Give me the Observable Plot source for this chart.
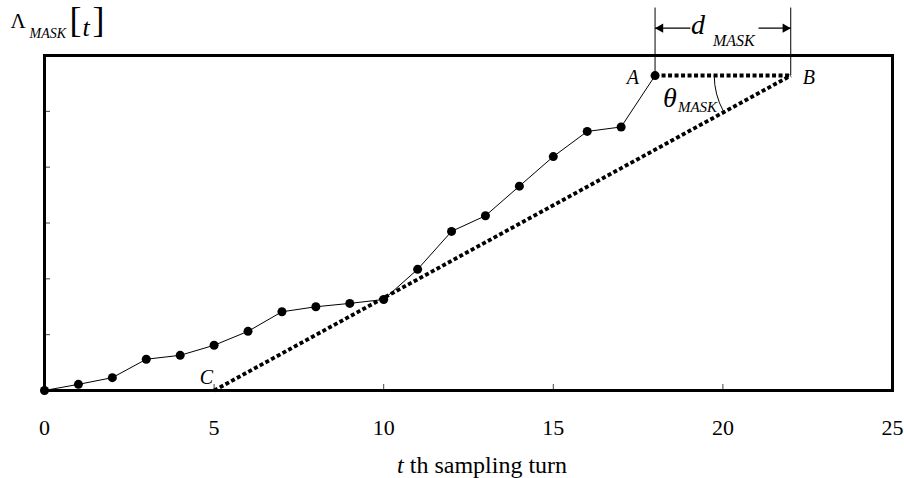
<!DOCTYPE html>
<html><head><meta charset="utf-8">
<script src="https://cdn.jsdelivr.net/npm/d3@7"></script>
<script src="https://cdn.jsdelivr.net/npm/@observablehq/plot@0.6"></script>
<style>body{margin:0;background:#fff}</style>
</head><body><div id="chart"></div>
<script>
// ---- data ----
const turns = [0,1,2,3,4,5,6,7,8,9,10,11,12,13,14,15,16,17,18];
const lambdaMask = [0,0.11,0.23,0.56,0.63,0.81,1.06,1.41,1.50,1.56,1.63,2.17,2.85,3.13,3.66,4.19,4.64,4.72,5.64];
const xTicks = [0,5,10,15,20,25];
const xInnerTicks = [5,10,15,20];
const yInnerTicks = [1,2,3,4,5];
// construction points A, B, C
const maskLabels = ["A","B","C"];
const maskX = [18,22,5];
const maskY = [5.64,5.64,0];
// dimension annotation (data units)
const dimensionTop = 6.85;
const arrowY = 6.49;
const arrowInner = [19.04, 21.05];
const xLabelPos = 12.9;

const data = turns.map((t,i)=>({t, v: lambdaMask[i]}));
const pts = maskLabels.map((k,i)=>({k, x: maskX[i], y: maskY[i]}));
const A = pts[0], B = pts[1], C = pts[2];

const serif = "Liberation Serif, Times New Roman, serif";
const dotted = {x:"x", y:"y", stroke:"black", strokeWidth:4, strokeDasharray:"4,2.5", strokeLinecap:"butt"};

const chart = Plot.plot({
  width: 904, height: 478,
  marginLeft: 44, marginRight: 12, marginTop: 55, marginBottom: 88,
  style: {fontFamily: serif, fontSize: "22px", color: "black", background: "white", overflow: "visible"},
  x: {domain: [0,25]},
  y: {domain: [0,6]},
  marks: [
    Plot.axisX({ticks: xInnerTicks, tickSize: -6, tickFormat: () => "", label: null, stroke: "#444"}),
    Plot.axisX({ticks: xTicks, tickSize: 0, tickPadding: 29, fontSize: 22, label: null, tickFormat: d => String(d)}),
    Plot.axisY({ticks: yInnerTicks, tickSize: -6, tickFormat: () => "", label: null, stroke: "#444"}),
    Plot.frame({stroke: "black", strokeWidth: 3}),
    Plot.line(data, {x: "t", y: "v", stroke: "black", strokeWidth: 1}),
    Plot.dot(data, {x: "t", y: "v", r: 4.5, fill: "black"}),
    Plot.line([A,B], dotted),
    Plot.line([C,B], {...dotted, strokeWidth: 3.8}),
    // dimension lines
    Plot.ruleX([A,B], {x: "x", y1: "y", y2: () => dimensionTop, stroke: "black", strokeWidth: 1}),
    Plot.link([{x1: A.x, x2: arrowInner[0]}, {x1: arrowInner[1], x2: B.x}],
      {x1: "x1", x2: "x2", y1: () => arrowY, y2: () => arrowY, stroke: "black", strokeWidth: 1.2}),
    Plot.dot([A], {x: "x", y: () => arrowY, symbol: "triangle", rotate: -90, r: 3.5, fill: "black", dx: 5.4}),
    Plot.dot([B], {x: "x", y: () => arrowY, symbol: "triangle", rotate: 90, r: 3.5, fill: "black", dx: -5.4}),
    // point labels
    Plot.text([A], {x: "x", y: "y", text: "k", fontStyle: "italic", fontSize: 20, textAnchor: "end", lineAnchor: "middle", dx: -16, dy: 2}),
    Plot.text([B], {x: "x", y: "y", text: "k", fontStyle: "italic", fontSize: 20, textAnchor: "start", lineAnchor: "middle", dx: 12, dy: 2}),
    Plot.text([C], {x: "x", y: "y", text: "k", fontStyle: "italic", fontSize: 20, textAnchor: "end", lineAnchor: "bottom", dx: -1, dy: -7}),
    // rich labels (tspans added after rendering)
    Plot.text(["KEY_LAMBDA"], {x: () => 0, y: () => 6, text: d => d, textAnchor: "start", lineAnchor: "bottom"}),
    Plot.text(["KEY_D"], {x: () => (A.x + B.x) / 2, y: () => A.y, text: d => d, textAnchor: "start", lineAnchor: "bottom"}),
    Plot.text(["KEY_THETA"], {x: () => (A.x + B.x) / 2, y: () => A.y, text: d => d, textAnchor: "start", lineAnchor: "bottom"}),
    Plot.text(["KEY_XLABEL"], {x: () => xLabelPos, y: () => 0, text: d => d, textAnchor: "middle", lineAnchor: "bottom", dy: 82})
  ]
});

function rich(key, parts) {
  d3.select(chart).selectAll("text").filter(function(){ return this.textContent === key; }).each(function(){
    const t = d3.select(this);
    t.text(null);
    for (const p of parts) {
      const s = t.append("tspan");
      if (p.x != null) s.attr("x", p.x);
      if (p.y != null) s.attr("y", p.y);
      s.attr("font-size", p.size).attr("font-style", p.italic ? "italic" : "normal").text(p.t);
    }
  });
}
rich("KEY_LAMBDA", [
  {t: "Λ", x: -34, y: -28, size: 21},
  {t: "MASK", x: -15, y: -18, size: 14, italic: true},
  {t: "[", x: 25, y: -24, size: 36},
  {t: "t", x: 38, y: -20, size: 26, italic: true},
  {t: "]", x: 48, y: -24, size: 36}
]);
rich("KEY_D", [
  {t: "d", x: -32, y: -42, size: 28, italic: true},
  {t: "MASK", x: -10, y: -30, size: 16, italic: true}
]);
rich("KEY_THETA", [
  {t: "θ", x: -60, y: 31, size: 28, italic: true},
  {t: "MASK", x: -45, y: 36, size: 15, italic: true}
]);
rich("KEY_XLABEL", [
  {t: "t", size: 24, italic: true},
  {t: " th sampling turn", size: 24}
]);
d3.select(chart).selectAll("text").attr("font-family", serif).style("font-family", serif);

// angle arc at B between BA and BC, computed through the plot's scales
const xs = chart.scale("x"), ys = chart.scale("y");
const bx = xs.apply(B.x), by = ys.apply(B.y), cx = xs.apply(C.x), cy = ys.apply(C.y);
const ang = Math.atan2(cy - by, cx - bx);
const path = d3.path();
const r = 76;
path.moveTo(bx + r * Math.cos(Math.PI), by + r * Math.sin(Math.PI));
path.arc(bx, by, r, Math.PI, ang, true);
d3.select(chart).append("path").attr("d", path.toString()).attr("fill", "none").attr("stroke", "black").attr("stroke-width", 1);

document.getElementById("chart").append(chart);
</script>
</body></html>
